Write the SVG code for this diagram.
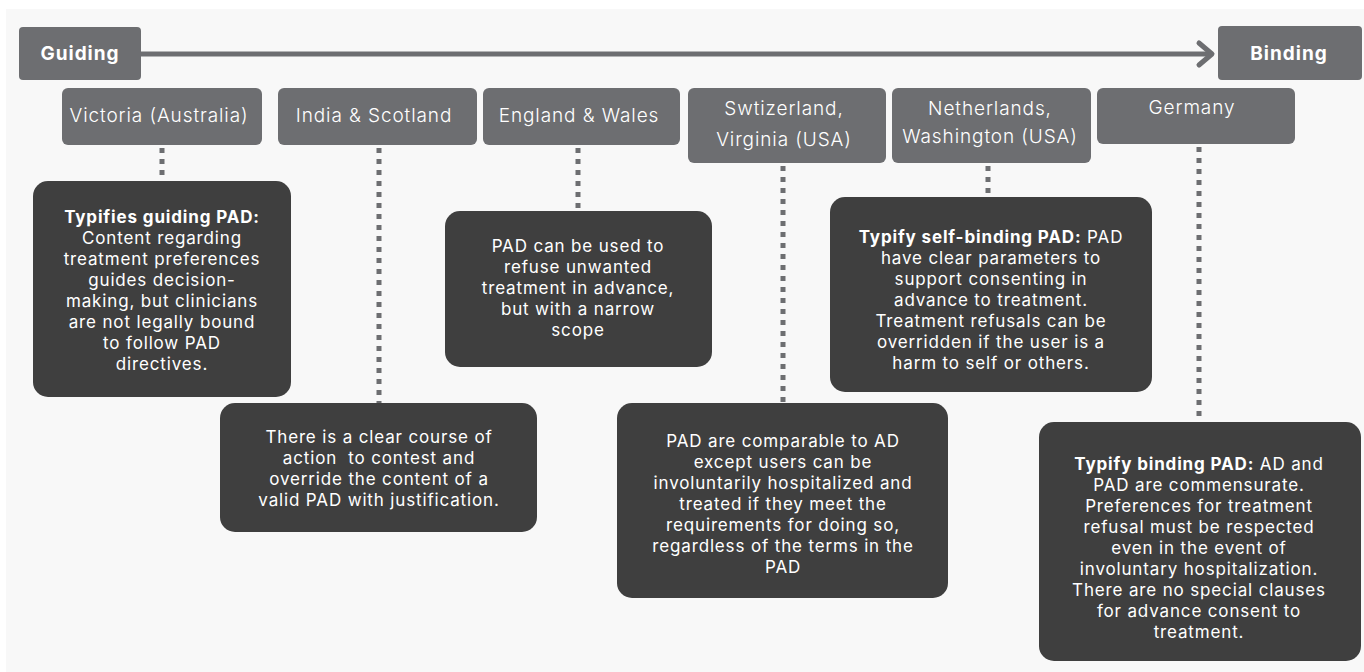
<svg xmlns="http://www.w3.org/2000/svg" width="1364" height="672" viewBox="0 0 1364 672">
<style>
.hdr{fill:#6d6e71}
.hdrt{font-family:Inter,"Liberation Sans",sans-serif;font-size:19px;font-weight:700;fill:#ffffff;text-anchor:middle;letter-spacing:1px}
.ctry{fill:#6d6e71}
.ctryt{font-family:Inter,"Liberation Sans",sans-serif;font-size:19px;font-weight:300;fill:#ffffff;text-anchor:middle;letter-spacing:0.9px}
.box{fill:#3f3f3f}
.boxt{font-family:Inter,"Liberation Sans",sans-serif;font-size:17px;fill:#ffffff;text-anchor:middle;letter-spacing:0.85px}
.b{font-weight:700}
.dot{stroke:#6d6e71;stroke-width:5;stroke-dasharray:5 6;fill:none}
</style>
<rect x="0" y="0" width="1364" height="672" fill="#ffffff"/>
<rect x="6" y="9" width="1358" height="663" fill="#f8f8f8"/>

<g id="connectors">
  <line x1="141" y1="54" x2="1212" y2="54" stroke="#6d6e71" stroke-width="5"/>
  <polyline points="1199,43 1212,54 1199,65" fill="none" stroke="#6d6e71" stroke-width="5" stroke-linecap="round" stroke-linejoin="round"/>
  <line class="dot" x1="162" y1="148" x2="162" y2="182"/>
  <line class="dot" x1="379" y1="148" x2="379" y2="404"/>
  <line class="dot" x1="578" y1="148" x2="578" y2="212"/>
  <line class="dot" x1="783" y1="166" x2="783" y2="404"/>
  <line class="dot" x1="988" y1="166" x2="988" y2="198"/>
  <line class="dot" x1="1199" y1="147" x2="1199" y2="423"/>
</g>

<g id="guiding">
  <rect class="hdr" x="19" y="27" width="122" height="53" rx="4"/>
  <text class="hdrt" x="80" y="60">Guiding</text>
</g>
<g id="binding">
  <rect class="hdr" x="1218" y="26" width="144" height="54" rx="4"/>
  <text class="hdrt" x="1289" y="60">Binding</text>
</g>

<g id="victoria">
  <rect class="ctry" x="62" y="88" width="200" height="57" rx="6"/>
  <text class="ctryt" x="159" y="122">Victoria (Australia)</text>
</g>
<g id="india">
  <rect class="ctry" x="278" y="88" width="199" height="57" rx="6"/>
  <text class="ctryt" x="374" y="122">India &amp; Scotland</text>
</g>
<g id="england">
  <rect class="ctry" x="483" y="88" width="197" height="57" rx="6"/>
  <text class="ctryt" x="579" y="122">England &amp; Wales</text>
</g>
<g id="switzerland">
  <rect class="ctry" x="688" y="88" width="198" height="75" rx="6"/>
  <text class="ctryt" x="784" y="115">Swtizerland,</text>
  <text class="ctryt" x="784" y="146">Virginia (USA)</text>
</g>
<g id="netherlands">
  <rect class="ctry" x="892" y="88" width="199" height="75" rx="6"/>
  <text class="ctryt" x="990" y="115">Netherlands,</text>
  <text class="ctryt" x="990" y="143">Washington (USA)</text>
</g>
<g id="germany">
  <rect class="ctry" x="1097" y="88" width="198" height="56" rx="6"/>
  <text class="ctryt" x="1192" y="114">Germany</text>
</g>

<g id="desc-victoria">
  <rect class="box" x="33" y="181" width="258" height="216" rx="15"/>
  <text class="boxt" x="162" y="223"><tspan class="b">Typifies guiding PAD:</tspan></text>
  <text class="boxt" x="162" y="244">Content regarding</text>
  <text class="boxt" x="162" y="265">treatment preferences</text>
  <text class="boxt" x="162" y="286">guides decision-</text>
  <text class="boxt" x="162" y="307">making, but clinicians</text>
  <text class="boxt" x="162" y="328">are not legally bound</text>
  <text class="boxt" x="162" y="349">to follow PAD</text>
  <text class="boxt" x="162" y="370">directives.</text>
</g>
<g id="desc-india">
  <rect class="box" x="220" y="403" width="317" height="129" rx="15"/>
  <text class="boxt" x="379" y="443">There is a clear course of</text>
  <text class="boxt" x="379" y="464" xml:space="preserve">action  to contest and</text>
  <text class="boxt" x="379" y="485">override the content of a</text>
  <text class="boxt" x="379" y="506">valid PAD with justification.</text>
</g>
<g id="desc-england">
  <rect class="box" x="445" y="211" width="267" height="156" rx="15"/>
  <text class="boxt" x="578" y="252">PAD can be used to</text>
  <text class="boxt" x="578" y="273">refuse unwanted</text>
  <text class="boxt" x="578" y="294">treatment in advance,</text>
  <text class="boxt" x="578" y="315">but with a narrow</text>
  <text class="boxt" x="578" y="336">scope</text>
</g>
<g id="desc-switzerland">
  <rect class="box" x="617" y="403" width="331" height="195" rx="15"/>
  <text class="boxt" x="783" y="447">PAD are comparable to AD</text>
  <text class="boxt" x="783" y="468">except users can be</text>
  <text class="boxt" x="783" y="489">involuntarily hospitalized and</text>
  <text class="boxt" x="783" y="510">treated if they meet the</text>
  <text class="boxt" x="783" y="531">requirements for doing so,</text>
  <text class="boxt" x="783" y="552">regardless of the terms in the</text>
  <text class="boxt" x="783" y="573">PAD</text>
</g>
<g id="desc-netherlands">
  <rect class="box" x="830" y="197" width="322" height="195" rx="15"/>
  <text class="boxt" x="991" y="243"><tspan class="b">Typify self-binding PAD:</tspan> PAD</text>
  <text class="boxt" x="991" y="264">have clear parameters to</text>
  <text class="boxt" x="991" y="285">support consenting in</text>
  <text class="boxt" x="991" y="306">advance to treatment.</text>
  <text class="boxt" x="991" y="327">Treatment refusals can be</text>
  <text class="boxt" x="991" y="348">overridden if the user is a</text>
  <text class="boxt" x="991" y="369">harm to self or others.</text>
</g>
<g id="desc-germany">
  <rect class="box" x="1039" y="422" width="322" height="239" rx="15"/>
  <text class="boxt" x="1199" y="470"><tspan class="b">Typify binding PAD:</tspan> AD and</text>
  <text class="boxt" x="1199" y="491">PAD are commensurate.</text>
  <text class="boxt" x="1199" y="512">Preferences for treatment</text>
  <text class="boxt" x="1199" y="533">refusal must be respected</text>
  <text class="boxt" x="1199" y="554">even in the event of</text>
  <text class="boxt" x="1199" y="575">involuntary hospitalization.</text>
  <text class="boxt" x="1199" y="596">There are no special clauses</text>
  <text class="boxt" x="1199" y="617">for advance consent to</text>
  <text class="boxt" x="1199" y="638">treatment.</text>
</g>
</svg>
